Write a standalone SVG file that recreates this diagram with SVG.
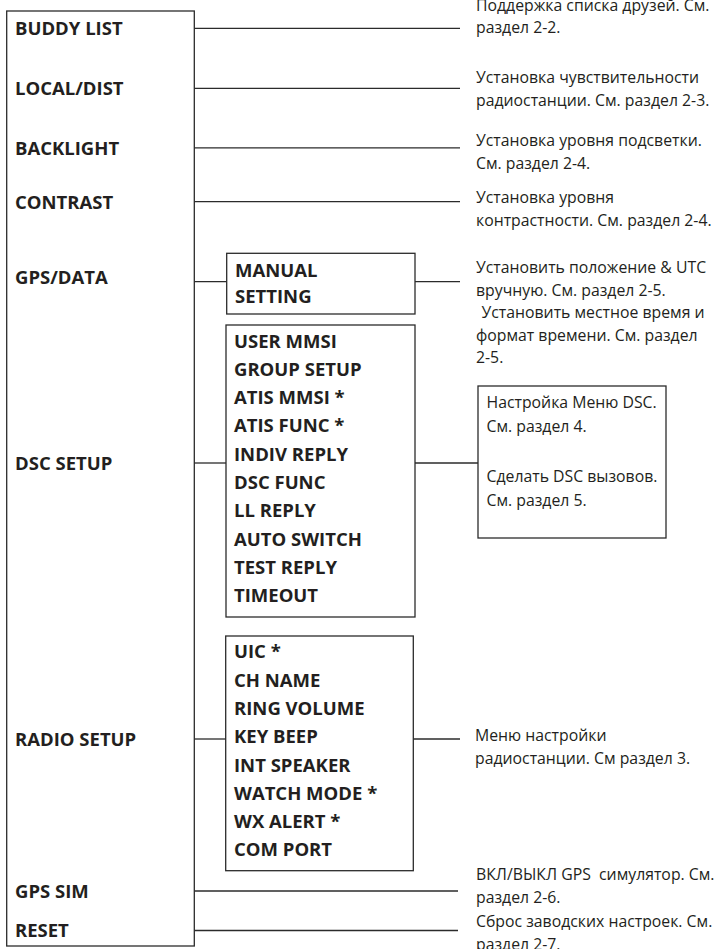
<svg xmlns="http://www.w3.org/2000/svg" width="719" height="949" viewBox="0 0 719 949">
  <style>
    .box { fill: none; stroke: #2b2b2b; stroke-width: 1.3; }
    .wire { fill: none; stroke: #2b2b2b; stroke-width: 1.3; }
    .menu { font-family: "Open Sans", "Noto Sans", "Liberation Sans", sans-serif; font-weight: 700; font-size: 18.5px; fill: #231f20; }
    .note { font-family: "Open Sans", "Noto Sans", "Liberation Sans", sans-serif; font-size: 15.8px; fill: #231f20; }
  </style>
  <rect width="719" height="949" fill="#ffffff"/>

  <!-- main menu column -->
  <g id="main-menu">
    <rect class="box" x="6.7" y="11" width="187.6" height="935"/>
    <text class="menu" x="15" y="35">BUDDY LIST</text>
    <text class="menu" x="15" y="95">LOCAL/DIST</text>
    <text class="menu" x="15" y="154.5">BACKLIGHT</text>
    <text class="menu" x="15" y="208.5">CONTRAST</text>
    <text class="menu" x="15" y="284">GPS/DATA</text>
    <text class="menu" x="15" y="469.5">DSC SETUP</text>
    <text class="menu" x="15" y="746">RADIO SETUP</text>
    <text class="menu" x="15" y="898">GPS SIM</text>
    <text class="menu" x="15" y="937">RESET</text>
  </g>

  <!-- GPS/DATA submenu -->
  <g id="gps-submenu">
    <rect class="box" x="226.7" y="253.3" width="188.3" height="60.7"/>
    <text class="menu" x="235" y="276.5">MANUAL</text>
    <text class="menu" x="235" y="302.5">SETTING</text>
  </g>

  <!-- DSC SETUP submenu -->
  <g id="dsc-submenu">
    <rect class="box" x="226" y="325" width="189" height="292"/>
    <text class="menu" x="234" y="347.5">USER MMSI</text>
    <text class="menu" x="234" y="375.8">GROUP SETUP</text>
    <text class="menu" x="234" y="404.1">ATIS MMSI *</text>
    <text class="menu" x="234" y="432.4">ATIS FUNC *</text>
    <text class="menu" x="234" y="460.7">INDIV REPLY</text>
    <text class="menu" x="234" y="489">DSC FUNC</text>
    <text class="menu" x="234" y="517.3">LL REPLY</text>
    <text class="menu" x="234" y="545.6">AUTO SWITCH</text>
    <text class="menu" x="234" y="573.9">TEST REPLY</text>
    <text class="menu" x="234" y="602.2">TIMEOUT</text>
  </g>

  <!-- RADIO SETUP submenu -->
  <g id="radio-submenu">
    <rect class="box" x="225.7" y="636" width="187.6" height="234.7"/>
    <text class="menu" x="234" y="658.3">UIC *</text>
    <text class="menu" x="234" y="686.6">CH NAME</text>
    <text class="menu" x="234" y="714.9">RING VOLUME</text>
    <text class="menu" x="234" y="743.2">KEY BEEP</text>
    <text class="menu" x="234" y="771.5">INT SPEAKER</text>
    <text class="menu" x="234" y="799.8">WATCH MODE *</text>
    <text class="menu" x="234" y="828.1">WX ALERT *</text>
    <text class="menu" x="234" y="856.4">COM PORT</text>
  </g>

  <!-- DSC reference box -->
  <g id="dsc-note">
    <rect class="box" x="478" y="386" width="188" height="152"/>
    <text class="note" x="486.5" y="408">Настройка Меню DSC.</text>
    <text class="note" x="486.5" y="431.5">См. раздел 4.</text>
    <text class="note" x="486.5" y="482">Сделать DSC вызовов.</text>
    <text class="note" x="486.5" y="505.5">См. раздел 5.</text>
  </g>

  <!-- descriptions -->
  <g id="note-buddy">
    <text class="note" x="476" y="10.5">Поддержка списка друзей. См.</text>
    <text class="note" x="476" y="33">раздел 2-2.</text>
  </g>
  <g id="note-local">
    <text class="note" x="476" y="83">Установка чувствительности</text>
    <text class="note" x="476" y="105.5">радиостанции. См. раздел 2-3.</text>
  </g>
  <g id="note-backlight">
    <text class="note" x="476" y="146">Установка уровня подсветки.</text>
    <text class="note" x="476" y="168.5">См. раздел 2-4.</text>
  </g>
  <g id="note-contrast">
    <text class="note" x="476" y="203">Установка уровня</text>
    <text class="note" x="476" y="225.5">контрастности. См. раздел 2-4.</text>
  </g>
  <g id="note-gps">
    <text class="note" x="476" y="273.3">Установить положение &amp; UTC</text>
    <text class="note" x="476" y="295.8">вручную. См. раздел 2-5.</text>
    <text class="note" x="481.5" y="318.3">Установить местное время и</text>
    <text class="note" x="476" y="340.8">формат времени. См. раздел</text>
    <text class="note" x="476" y="363.3">2-5.</text>
  </g>
  <g id="note-radio">
    <text class="note" x="475" y="741">Меню настройки</text>
    <text class="note" x="475" y="763.5">радиостанции. См раздел 3.</text>
  </g>
  <g id="note-gpssim">
    <text class="note" x="476" y="880" xml:space="preserve">ВКЛ/ВЫКЛ GPS  симулятор. См.</text>
    <text class="note" x="476" y="903">раздел 2-6.</text>
  </g>
  <g id="note-reset">
    <text class="note" x="476" y="927">Сброс заводских настроек. См.</text>
    <text class="note" x="476" y="950">раздел 2-7.</text>
  </g>

  <!-- connectors -->
  <g id="connectors" class="wire">
    <line x1="194.3" y1="28.3" x2="460" y2="28.3"/>
    <line x1="194.3" y1="88.3" x2="460" y2="88.3"/>
    <line x1="194.3" y1="147.8" x2="460" y2="147.8"/>
    <line x1="194.3" y1="201.7" x2="460" y2="201.7"/>
    <line x1="194.3" y1="281.7" x2="226.7" y2="281.7"/>
    <line x1="415" y1="281.7" x2="460" y2="281.7"/>
    <line x1="194.3" y1="463" x2="226" y2="463"/>
    <line x1="415" y1="463" x2="478" y2="463"/>
    <line x1="194.3" y1="739" x2="225.7" y2="739"/>
    <line x1="413.3" y1="739" x2="460" y2="739"/>
    <line x1="194.3" y1="891" x2="458" y2="891"/>
    <line x1="194.3" y1="930.5" x2="458" y2="930.5"/>
  </g>
</svg>
